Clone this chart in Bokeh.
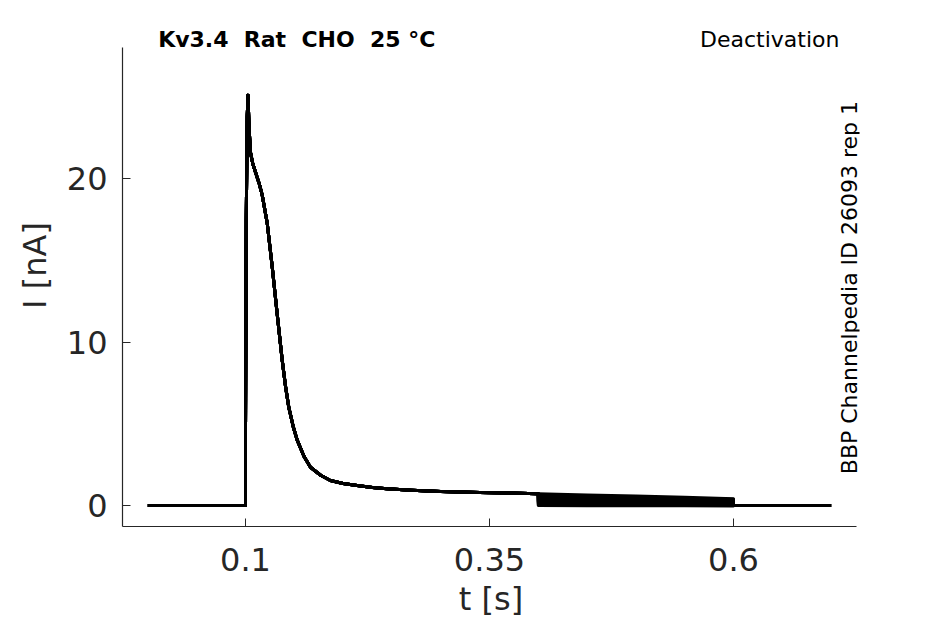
import numpy as np
from bokeh.plotting import figure
from bokeh.models import FixedTicker, Label, Range1d
from bokeh.embed import file_html
from bokeh.resources import INLINE

# ---- data ----
# shared part of every sweep (activation + tail up to the deactivation step)
t_common = [0.0, 0.1, 0.1, 0.1008, 0.1018, 0.1026, 0.1036, 0.1051, 0.1075, 0.1102,
            0.1140, 0.1171, 0.1222, 0.1274, 0.1325, 0.1376, 0.1410, 0.1444, 0.1490,
            0.1530, 0.1600, 0.1666, 0.1770, 0.1870, 0.2000, 0.2144, 0.2300, 0.2450,
            0.2700, 0.3000, 0.3400, 0.3700, 0.4000]
i_common = [0.0, 0.0, 3.9, 17.5, 23.8, 25.1, 23.2, 21.6, 20.9, 20.4,
            19.7, 19.0, 17.3, 14.6, 11.7, 8.9, 7.3, 6.0, 4.8,
            4.0, 3.0, 2.34, 1.85, 1.53, 1.35, 1.22, 1.10, 1.02,
            0.93, 0.86, 0.80, 0.76, 0.72]
# deactivation window (one row per sweep)
t_tail = [0.4, 0.45, 0.5, 0.55, 0.6]
i_tail = [
    [0.72, 0.65, 0.58, 0.50, 0.42],
    [0.63, 0.57, 0.51, 0.45, 0.38],
    [0.55, 0.50, 0.45, 0.40, 0.34],
    [0.47, 0.43, 0.39, 0.35, 0.30],
    [0.39, 0.36, 0.33, 0.30, 0.26],
    [0.31, 0.29, 0.27, 0.24, 0.21],
    [0.23, 0.21, 0.20, 0.18, 0.16],
    [0.15, 0.14, 0.13, 0.12, 0.11],
    [0.07, 0.07, 0.06, 0.06, 0.05],
    [0.00, -0.01, -0.02, -0.02, -0.03],
]
t_end = [0.6, 0.7]
i_end = [0.0, 0.0]

x_ticks = [0.1, 0.35, 0.6]
x_tick_labels = ["0.1", "0.35", "0.6"]
y_ticks = [0, 10, 20]
y_tick_labels = ["0", "10", "20"]

title_text = "Kv3.4\u00a0 Rat\u00a0 CHO\u00a0 25 °C"
protocol_text = "Deactivation"
side_text = "BBP Channelpedia ID 26093 rep 1"

x_axis_span = (-0.026, 0.726)
y_axis_span = (-1.284, 28.0)

FONT = "DejaVu Sans"
AX = "#262626"

p = figure(frame_width=737, frame_height=522,
           min_border_left=122, min_border_top=4, min_border_right=40, min_border_bottom=60,
           x_range=Range1d(-0.026, 0.7291), y_range=Range1d(-1.284, 30.643),
           output_backend="svg", toolbar_location=None, title=None)
p.outline_line_color = None
p.xgrid.visible = False
p.ygrid.visible = False
p.background_fill_color = "white"
p.border_fill_color = "white"

for tails in i_tail:
    xs = t_common + t_tail + t_end
    ys = i_common + tails + i_end
    p.line(xs, ys, line_color="black", line_width=3, line_join="round")

for ax in (p.xaxis[0], p.yaxis[0]):
    ax.axis_line_color = AX
    ax.axis_line_width = 1.2
    ax.major_tick_line_color = AX
    ax.major_tick_in = 8
    ax.major_tick_out = 0
    ax.minor_tick_line_color = None
    ax.major_label_text_font = FONT
    ax.major_label_text_font_size = "32px"
    ax.major_label_text_color = AX
    ax.axis_label_text_font = FONT
    ax.axis_label_text_font_size = "32px"
    ax.axis_label_text_font_style = "normal"
    ax.axis_label_text_color = AX

p.xaxis.bounds = x_axis_span
p.yaxis.bounds = y_axis_span
p.xaxis.ticker = FixedTicker(ticks=x_ticks)
p.xaxis.major_label_overrides = dict(zip(x_ticks, x_tick_labels))
p.yaxis.ticker = FixedTicker(ticks=y_ticks)
p.yaxis.major_label_overrides = dict(zip(y_ticks, y_tick_labels))
p.xaxis.axis_label = "t [s]"
p.yaxis.axis_label = "I [nA]"
p.xaxis.major_label_standoff = 21
p.xaxis.axis_label_standoff = 6
p.yaxis.major_label_standoff = 15
p.yaxis.axis_label_standoff = 10

p.add_layout(Label(x=0.0105, y=28.53, text=title_text, text_font=FONT,
                   text_font_size="22px", text_font_style="bold", text_color="black",
                   text_align="left", text_baseline="alphabetic"))
p.add_layout(Label(x=0.7086, y=28.53, text=protocol_text, text_font=FONT,
                   text_font_size="22px", text_color="black",
                   text_align="right", text_baseline="alphabetic"))
p.add_layout(Label(x=0.719, y=13.33, text=side_text, text_font=FONT,
                   text_font_size="22px", text_color="black", angle=np.pi / 2,
                   text_align="center", text_baseline="middle"))

open("out.html", "w").write(file_html(p, INLINE))
